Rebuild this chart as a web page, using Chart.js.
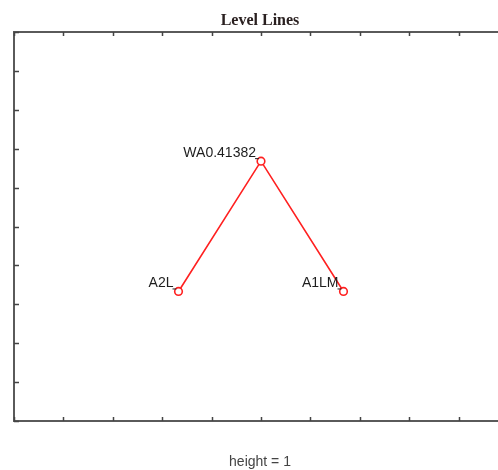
<!DOCTYPE html>
<html>
<head>
<meta charset="utf-8">
<script src="https://cdn.jsdelivr.net/npm/chart.js@4.4.1/dist/chart.umd.min.js"></script>
<style>
html,body{margin:0;padding:0;background:#fff;overflow:hidden;width:498px;height:470px;}
#wrap{position:absolute;left:0;top:0;width:520px;height:470px;}
</style>
</head>
<body>
<div id="wrap"><canvas id="c" width="520" height="470"></canvas></div>
<script>
// Data
const pointLabels = ['A2L', 'WA0.41382', 'A1LM'];
const xValues = [0.333, 0.5, 0.667];
const yValues = [0.333, 0.668, 0.333];
const xTicks = [0, 0.1, 0.2, 0.3, 0.4, 0.5, 0.6, 0.7, 0.8, 0.9, 1];
const yTicks = [0, 0.1, 0.2, 0.3, 0.4, 0.5, 0.6, 0.7, 0.8, 0.9, 1];
const chartTitle = 'Level Lines';
const xAxisTitle = 'height = 1';

const points = xValues.map((x, i) => ({x: x, y: yValues[i]}));

const framePlugin = {
  id: 'frame',
  beforeDatasetsDraw(chart) {
    const ctx = chart.ctx;
    const a = chart.chartArea;
    const xs = chart.scales.x, ys = chart.scales.y;
    ctx.save();
    ctx.strokeStyle = '#5a5a5a';
    ctx.lineWidth = 2;
    ctx.beginPath();
    ctx.rect(a.left, a.top, a.right - a.left, a.bottom - a.top);
    ctx.stroke();
    ctx.lineWidth = 1.5;
    ctx.strokeStyle = '#444';
    ctx.beginPath();
    xTicks.forEach(t => {
      const px = Math.round(xs.getPixelForValue(t)) + 0.5;
      ctx.moveTo(px, a.top); ctx.lineTo(px, a.top + 4);
      ctx.moveTo(px, a.bottom); ctx.lineTo(px, a.bottom - 4);
    });
    yTicks.forEach(t => {
      const py = Math.round(ys.getPixelForValue(t)) + 0.5;
      ctx.moveTo(a.left, py); ctx.lineTo(a.left + 5, py);
      ctx.moveTo(a.right, py); ctx.lineTo(a.right - 5, py);
    });
    ctx.stroke();
    ctx.restore();
  },
  afterDraw(chart) {
    const ctx = chart.ctx;
    const a = chart.chartArea;
    const cx = (a.left + a.right) / 2 - 1;
    ctx.save();
    ctx.textAlign = 'center';
    ctx.textBaseline = 'alphabetic';
    ctx.fillStyle = '#2a2020';
    ctx.font = 'bold 16px "Liberation Serif", serif';
    ctx.fillText(chartTitle, cx, 25);
    ctx.fillStyle = '#444';
    ctx.font = '14px "Liberation Sans", Arial, sans-serif';
    ctx.fillText(xAxisTitle, cx, 466);
    // point labels
    const meta = chart.getDatasetMeta(0);
    ctx.font = '14px "Liberation Sans", Arial, sans-serif';
    ctx.fillStyle = '#1e1e1e';
    ctx.textAlign = 'right';
    meta.data.forEach((el, i) => {
      const px = el.x, py = el.y;
      const endX = px - 5;
      const by = py - 4;
      ctx.fillText(pointLabels[i], endX, by);
      ctx.strokeStyle = '#222';
      ctx.lineWidth = 1;
      ctx.beginPath();
      ctx.moveTo(endX - 1, by + 1.5);
      ctx.lineTo(px - 2, by + 1.5);
      ctx.stroke();
    });
    ctx.restore();
  }
};

new Chart(document.getElementById('c'), {
  type: 'line',
  data: {
    datasets: [{
      data: points,
      borderColor: '#ff2020',
      borderWidth: 1.6,
      pointRadius: 3.8,
      pointBorderWidth: 1.6,
      pointBorderColor: '#ff2020',
      pointBackgroundColor: '#ffffff',
      tension: 0
    }]
  },
  options: {
    responsive: false,
    animation: false,
    layout: {padding: {left: 14, top: 32, right: 12, bottom: 49}},
    plugins: {legend: {display: false}, title: {display: false}, tooltip: {enabled: false}},
    scales: {
      x: {type: 'linear', min: 0, max: 1, display: false},
      y: {type: 'linear', min: 0, max: 1, display: false}
    }
  },
  plugins: [framePlugin]
});
</script>
</body>
</html>
